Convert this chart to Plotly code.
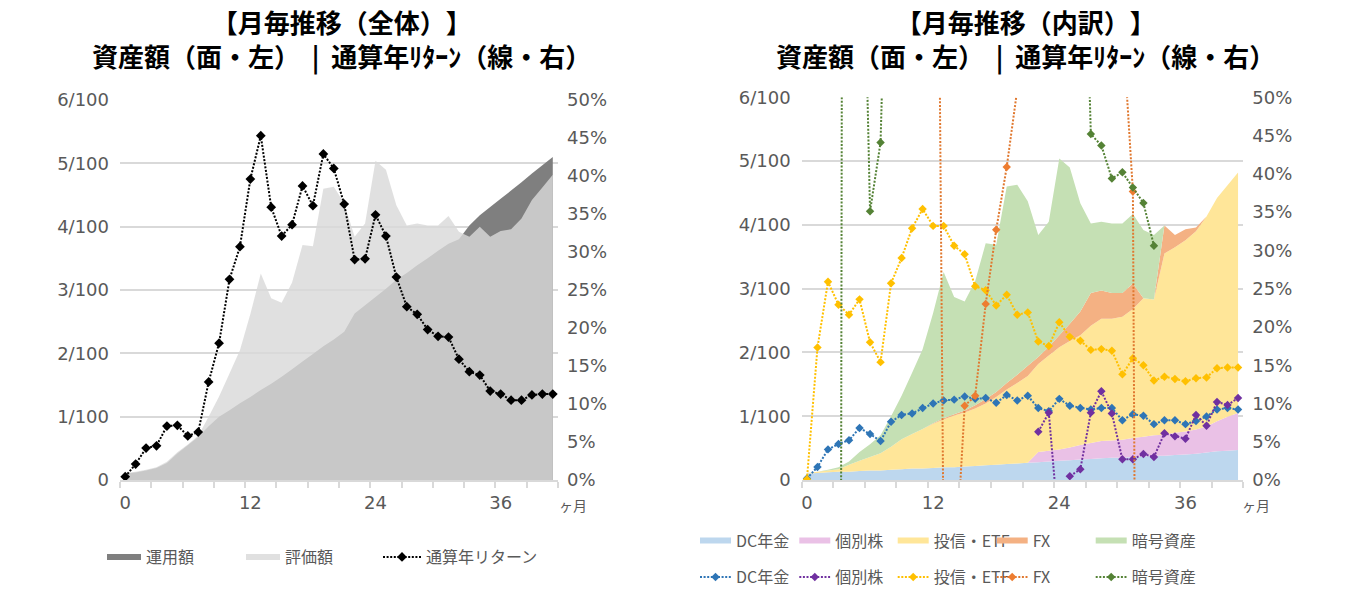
import plotly.graph_objects as go

# ---------------- data ----------------
months = list(range(42))
x_tick_vals = [0, 12, 24, 36]
x_tick_text = ["0", "12", "24", "36"]
y_left_vals = [0, 1, 2, 3, 4, 5, 6]
y_left_text = ["0", "1/100", "2/100", "3/100", "4/100", "5/100", "6/100"]

# left chart (asset amount in units of 1/100, return in %)
invested = [0.10, 0.12, 0.15, 0.19, 0.27, 0.42, 0.55, 0.68, 0.85, 1.00,
            1.10, 1.21, 1.31, 1.42, 1.52, 1.63, 1.75, 1.87, 1.99, 2.11,
            2.22, 2.34, 2.63, 2.76, 2.89, 3.02, 3.16, 3.27, 3.39, 3.50,
            3.62, 3.73, 3.80, 4.02, 4.18, 4.31, 4.44, 4.57, 4.70, 4.84,
            4.97, 5.10]
valuation = [0.11, 0.13, 0.16, 0.20, 0.29, 0.44, 0.56, 0.70, 1.00, 1.32,
             1.68, 2.05, 2.62, 3.26, 2.87, 2.80, 3.12, 3.71, 3.69, 4.60,
             4.63, 4.37, 3.84, 4.05, 5.04, 4.90, 4.34, 4.02, 4.05, 4.02,
             4.02, 4.17, 3.92, 3.84, 4.00, 3.84, 3.93, 3.96, 4.13, 4.42,
             4.62, 4.82]
total_return = [0.43, 2.1, 4.2, 4.5, 7.1, 7.2, 5.8, 6.3, 12.9, 18.0,
                26.4, 30.7, 39.6, 45.3, 35.9, 32.1, 33.6, 38.7, 36.1, 42.9,
                41.0, 36.3, 29.0, 29.1, 34.9, 32.1, 26.7, 22.8, 21.8, 19.8,
                18.9, 18.8, 15.9, 14.25, 13.8, 11.7, 11.3, 10.5, 10.5, 11.2,
                11.3, 11.3]

# right chart: stacked amounts by asset class
dc_amt = [0.10, 0.11, 0.12, 0.13, 0.13, 0.14, 0.15, 0.15, 0.16, 0.17,
          0.18, 0.18, 0.19, 0.20, 0.20, 0.21, 0.22, 0.23, 0.24, 0.25,
          0.26, 0.27, 0.28, 0.29, 0.30, 0.31, 0.32, 0.33, 0.34, 0.35,
          0.35, 0.36, 0.37, 0.38, 0.38, 0.39, 0.40, 0.41, 0.43, 0.45,
          0.46, 0.47]
stock_amt = [0] * 22 + [0.16, 0.17, 0.18, 0.20, 0.23, 0.25, 0.27, 0.27, 0.28, 0.30,
                        0.31, 0.32, 0.33, 0.35, 0.36, 0.38, 0.41, 0.47, 0.53, 0.58]
fund_amt = [0.01, 0.02, 0.03, 0.04, 0.11, 0.16, 0.21, 0.27, 0.36, 0.47,
            0.54, 0.62, 0.69, 0.75, 0.81, 0.85, 0.90, 0.97, 1.06, 1.17,
            1.26, 1.36, 1.38, 1.49, 1.60, 1.67, 1.72, 1.84, 1.92, 1.91,
            1.93, 2.02, 2.17, 2.13, 2.84, 2.91, 3.00, 3.11, 3.29, 3.50,
            3.63, 3.77]
fx_amt = [0] * 12 + [0.01, 0.02, 0.02, 0.03, 0.05, 0.07, 0.08, 0.10, 0.13, 0.16,
                     0.11, 0.14, 0.19, 0.27, 0.37, 0.51, 0.44, 0.40, 0.37, 0.40,
                     0, 0, 0.44, 0.19, 0.17, 0.06, 0, 0, 0, 0]
crypto_amt = [0, 0, 0.01, 0.03, 0.05, 0.14, 0.20, 0.28, 0.48, 0.68,
              0.96, 1.25, 1.73, 2.29, 1.84, 1.71, 1.95, 2.44, 2.31, 3.08,
              2.98, 2.58, 1.91, 1.96, 2.77, 2.45, 1.70, 1.09, 1.08, 1.09,
              1.09, 1.09, 1.07, 1.01, 0, 0, 0, 0, 0, 0,
              0, 0]

# right chart: returns by asset class (%)
dc_ret = [0.2, 1.7, 4.0, 4.7, 5.2, 6.8, 6.0, 5.1, 7.6, 8.5,
          8.7, 9.4, 10.0, 10.4, 10.5, 10.9, 10.6, 10.7, 10.1, 11.1,
          10.4, 11.0, 9.4, 9.0, 10.6, 9.7, 9.4, 9.2, 9.4, 9.4,
          7.8, 8.6, 8.4, 7.3, 7.8, 7.8, 7.3, 7.7, 8.3, 9.2,
          9.4, 9.2]
stock_ret = [None] * 22 + [6.3, 8.8, -7.2, 0.5, 1.4, 8.8, 11.6, 8.7, 2.7, 2.7,
                           3.4, 3.0, 6.1, 5.7, 5.4, 8.5, 7.1, 10.2, 9.8, 10.7]
fund_ret = [0.1, 17.3, 25.9, 22.9, 21.6, 23.6, 18.0, 15.4, 25.7, 29.0,
            32.9, 35.4, 33.2, 33.2, 30.6, 29.5, 25.3, 24.8, 22.8, 24.2,
            21.6, 21.9, 18.1, 17.5, 20.6, 18.7, 18.2, 17.0, 17.1, 16.9,
            13.8, 15.9, 15.0, 13.0, 13.5, 13.2, 12.9, 13.3, 13.4, 14.6,
            14.7, 14.7]
fx_ret = [None] * 12 + [160, -10, -14.5, 9.7, 11.0, 23.0, 32.7, 40.9, 51, 70,
                        75, 80, 90, 85, 80, 75, 70, 65, 60, 37.7,
                        -214] + [None] * 9
crypto_ret = [None] * 3 + [-200, 600, 97, 35.1, 44.1, 103, 150, 200, 250, 300,
                           350, 250, 220, 230, 260, 240, 280, 270, 240, 200,
                           210, 260, 230, 93, 45.2, 43.7, 39.4, 40.2, 38.2, 36.2,
                           30.6] + [None] * 8

names = ["DC年金", "個別株", "投信・ETF", "FX", "暗号資産"]
area_colors = ["#bdd7ee", "#eac1e6", "#ffe699", "#f4b183", "#c5e0b4"]
line_colors = ["#2e75b6", "#7030a0", "#ffc000", "#e0782f", "#548235"]
marker_colors = ["#2e75b6", "#7030a0", "#ffc000", "#ed7d31", "#548235"]

title_line1 = ["【月毎推移（全体）】", "【月毎推移（内訳）】"]
title_line2 = "資産額（面・左）  |  通算年ﾘﾀｰﾝ（線・右）"

# ---------------- figure ----------------
W, H = 1349, 613


def fx_(p):
    return p / W


def fy_(p):
    return 1 - p / H


GRAY = "#595959"
GRID = "#d9d9d9"
TICK_FONT = dict(family="DejaVu Sans", size=18, color=GRAY)
JP = "Noto Sans CJK JP"
DOT = "2px,1.6px"
legend_font = dict(family=JP, size=16, color=GRAY)

fig = go.Figure()
legends = {}


def add_legend(key, x_px, y_px, itemwidth):
    legends[key] = dict(orientation="h", x=fx_(x_px), y=fy_(y_px), xanchor="left",
                        yanchor="middle", font=legend_font, itemwidth=itemwidth,
                        bgcolor="rgba(0,0,0,0)", borderwidth=0)


# left chart
add_legend("legend", 102, 557, 34)
fig.add_trace(go.Scatter(x=months, y=invested, name="運用額", mode="none", fill="tozeroy",
                         fillcolor="#7f7f7f", xaxis="x", yaxis="y", legend="legend",
                         hoverinfo="skip"))
add_legend("legend2", 241, 557, 34)
fig.add_trace(go.Scatter(x=months, y=valuation, name="評価額", mode="none", fill="tozeroy",
                         fillcolor="rgba(217,217,217,0.81)", xaxis="x", yaxis="y",
                         legend="legend2", hoverinfo="skip"))
add_legend("legend3", 378, 557, 38)
fig.add_trace(go.Scatter(x=months, y=total_return, name="通算年リターン", mode="lines+markers",
                         line=dict(color="black", width=2, dash=DOT),
                         marker=dict(symbol="diamond", size=7.5, color="black"),
                         xaxis="x", yaxis="y2", legend="legend3", hoverinfo="skip"))

legend_x = [695, 794.3, 892.7, 991.7, 1090.7]

# right chart: stacked areas
for k, (name, vals, col) in enumerate(zip(names, [dc_amt, stock_amt, fund_amt, fx_amt, crypto_amt],
                                          area_colors)):
    key = "legend%d" % (4 + k)
    add_legend(key, legend_x[k], 540.5, 31)
    fig.add_trace(go.Scatter(x=months, y=vals, name=name, mode="none", stackgroup="assets",
                             fillcolor=col, xaxis="x2", yaxis="y3", legend=key,
                             hoverinfo="skip"))

# right chart: return lines
for k, (name, vals, lc, mc) in enumerate(zip(names, [dc_ret, stock_ret, fund_ret, fx_ret, crypto_ret],
                                             line_colors, marker_colors)):
    key = "legend%d" % (9 + k)
    add_legend(key, legend_x[k], 577, 31)
    fig.add_trace(go.Scatter(x=months, y=vals, name=name, mode="lines+markers",
                             line=dict(color=lc, width=2, dash=DOT),
                             marker=dict(symbol="diamond", size=6.5, color=mc),
                             connectgaps=False, xaxis="x2", yaxis="y4", legend=key,
                             hoverinfo="skip"))


def x_axis(domain, anchor):
    return dict(domain=domain, anchor=anchor, range=[-0.5, 41.5],
                tickmode="array", tickvals=x_tick_vals, ticktext=x_tick_text,
                ticks="", showline=True, linecolor=GRID, linewidth=1.5,
                showgrid=False, zeroline=False, tickfont=TICK_FONT, ticklabelstandoff=6,
                minor=dict(tickmode="array", tickvals=[-0.5 + 3 * k for k in range(15)],
                           ticks="outside", ticklen=6, tickcolor=GRID, tickwidth=1.5,
                           showgrid=False),
                fixedrange=True)


def y_left(domain, anchor):
    return dict(domain=domain, anchor=anchor, range=[0, 6], tickmode="array",
                tickvals=y_left_vals, ticktext=y_left_text, showgrid=True,
                gridcolor=GRID, gridwidth=1.8, zeroline=False, showline=False, ticks="",
                tickfont=TICK_FONT, ticklabelstandoff=10, fixedrange=True)


def y_right(overlay, anchor):
    return dict(overlaying=overlay, anchor=anchor, side="right", range=[0, 50],
                tickmode="linear", tick0=0, dtick=5, ticksuffix="%", showgrid=False,
                zeroline=False, showline=False, ticks="", tickfont=TICK_FONT,
                ticklabelstandoff=8, fixedrange=True)


yd_left = [fy_(480), fy_(100)]
yd_right = [fy_(480), fy_(97.3)]

fig.update_layout(
    width=W, height=H,
    margin=dict(l=0, r=0, t=0, b=0, autoexpand=False),
    paper_bgcolor="white", plot_bgcolor="white",
    xaxis=x_axis([fx_(120), fx_(558)], "y"),
    yaxis=y_left(yd_left, "x"),
    yaxis2=y_right("y", "x"),
    xaxis2=x_axis([fx_(801.7), fx_(1243.3)], "y3"),
    yaxis3=y_left(yd_right, "x2"),
    yaxis4=y_right("y3", "x2"),
    showlegend=True,
    **legends,
)

title_font = dict(family=JP, size=26, color="black", weight="bold")
annotations = []
for cx, t1 in zip([341, 1025], title_line1):
    annotations.append(dict(text=t1 + "<br>" + title_line2, x=fx_(cx), y=fy_(39),
                            xref="paper", yref="paper", xanchor="center", yanchor="middle",
                            align="center", showarrow=False, font=title_font))
for cx in [573, 1256]:
    annotations.append(dict(text="ヶ月", x=fx_(cx), y=fy_(505), xref="paper", yref="paper",
                            xanchor="center", yanchor="middle", showarrow=False,
                            font=dict(family=JP, size=14, color=GRAY)))
fig.update_layout(annotations=annotations)

post = (
    "document.body.style.margin='0';document.body.style.overflow='hidden';"
    "var s=document.createElement('style');"
    "s.textContent='.annotation-text{text-spacing-trim:space-all;font-kerning:none;}';"
    "document.head.appendChild(s);"
)
fig.write_html("out.html", config={"displayModeBar": False}, post_script=post)
